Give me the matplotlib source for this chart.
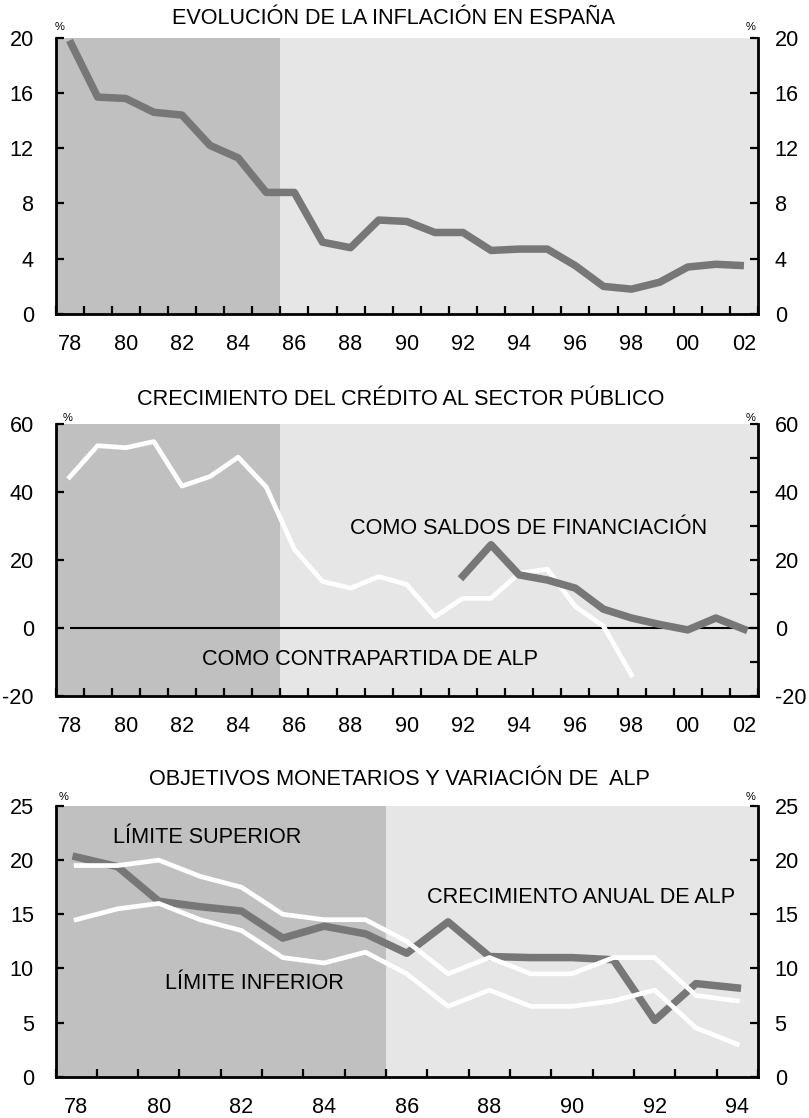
import matplotlib
matplotlib.use("Agg")
import matplotlib.pyplot as plt
from matplotlib.ticker import FixedLocator, MultipleLocator, NullFormatter

plt.rcParams['font.family'] = ['Liberation Sans', 'DejaVu Sans']

# ---------------- data ----------------
years_1 = ['78', '79', '80', '81', '82', '83', '84', '85', '86', '87', '88', '89', '90',
           '91', '92', '93', '94', '95', '96', '97', '98', '99', '00', '01', '02']
inflacion = [19.8, 15.7, 15.6, 14.6, 14.4, 12.2, 11.3, 8.8, 8.8, 5.2, 4.8, 6.8, 6.7,
             5.9, 5.9, 4.6, 4.7, 4.7, 3.5, 2.0, 1.8, 2.3, 3.4, 3.6, 3.5]

years_2 = years_1
contrapartida_years = ['78', '79', '80', '81', '82', '83', '84', '85', '86', '87', '88',
                       '89', '90', '91', '92', '93', '94', '95', '96', '97', '98']
contrapartida_alp = [44.4, 53.7, 53.1, 54.9, 41.8, 44.6, 50.3, 41.5, 23.2, 13.7, 11.7,
                     15.1, 12.8, 3.3, 8.7, 8.7, 16.1, 17.3, 6.3, 0.5, -13.9]
saldos_years = ['92', '93', '94', '95', '96', '97', '98', '99', '00', '01', '02']
saldos_financiacion = [15.3, 24.5, 15.6, 14.1, 11.7, 5.5, 2.9, 1.0, -0.6, 2.9, -0.4]

years_3 = ['78', '79', '80', '81', '82', '83', '84', '85', '86', '87', '88',
           '89', '90', '91', '92', '93', '94']
alp_crecimiento = [20.3, 19.4, 16.2, 15.7, 15.3, 12.8, 13.9, 13.2, 11.4, 14.3, 11.1,
                   11.0, 11.0, 10.8, 5.2, 8.6, 8.2]
limite_superior = [19.5, 19.5, 20.0, 18.5, 17.5, 15.0, 14.5, 14.5, 12.5, 9.5, 11.0,
                   9.5, 9.5, 11.0, 11.0, 7.5, 7.0]
limite_inferior = [14.5, 15.5, 16.0, 14.5, 13.5, 11.0, 10.5, 11.5, 9.5, 6.5, 8.0,
                   6.5, 6.5, 7.0, 8.0, 4.5, 3.0]

shade_last = '85'   # dark period ends after this year

titles = ['EVOLUCIÓN DE LA INFLACIÓN EN ESPAÑA',
          'CRECIMIENTO DEL CRÉDITO AL SECTOR PÚBLICO',
          'OBJETIVOS MONETARIOS Y VARIACIÓN DE  ALP']

# ---------------- style ----------------
W, H = 809, 1118
DPI = 100
DARK = '#c0c0c0'
LIGHT = '#e6e6e6'
GREY_LINE = '#777777'
FS = 15.6

fig = plt.figure(figsize=(W / DPI, H / DPI), dpi=DPI)


def px_rect(left, top, right, bottom):
    return [left / W, 1 - bottom / H, (right - left) / W, (bottom - top) / H]


def setup(ax, years, ylim, yticks, label_step=2, right_minor=None):
    n = len(years)
    ax.set_xlim(-0.5, n - 0.5)
    ax.set_ylim(*ylim)
    ax.set_facecolor(LIGHT)
    k = years.index(shade_last)
    ax.axvspan(-0.5, k + 0.5, color=DARK, lw=0, zorder=0)
    ax.spines['top'].set_visible(False)
    for s in ['left', 'right', 'bottom']:
        ax.spines[s].set_linewidth(2)
        ax.spines[s].set_color('black')
    # x ticks at bin boundaries, labels at bin centres
    ax.xaxis.set_major_locator(FixedLocator([i - 0.5 for i in range(n + 1)]))
    ax.xaxis.set_major_formatter(NullFormatter())
    centers = list(range(0, n, label_step))
    ax.xaxis.set_minor_locator(FixedLocator(centers))
    ax.set_xticklabels([years[i] for i in centers], minor=True)
    ax.tick_params(axis='x', which='major', direction='in', length=6, width=1.6, color='black')
    ax.tick_params(axis='x', which='minor', length=0, pad=14.5, labelsize=FS)
    ax.set_yticks(yticks)
    ax.set_yticklabels([str(v) for v in yticks])
    ax.tick_params(axis='y', which='major', direction='in', length=6, width=1.6,
                   pad=15.5, labelsize=FS)
    ax2 = ax.twinx()
    ax2.set_ylim(*ylim)
    ax2.set_yticks(yticks)
    ax2.set_yticklabels([str(v) for v in yticks])
    ax2.tick_params(axis='y', which='major', direction='in', length=6, width=1.6,
                    pad=12, labelsize=FS)
    if right_minor:
        ax2.yaxis.set_minor_locator(MultipleLocator(right_minor))
        ax2.tick_params(axis='y', which='minor', direction='in', length=6, width=1.6)
    for s in ax2.spines.values():
        s.set_visible(False)
    return ax2


def idx(years, subset):
    return [years.index(y) for y in subset]


# ---------------- panel 1 ----------------
ax1 = fig.add_axes(px_rect(55.5, 37.7, 758, 314))
setup(ax1, years_1, (0, 20), [0, 4, 8, 12, 16, 20])
ax1.plot(range(len(years_1)), inflacion, color=GREY_LINE, lw=5.4,
         solid_capstyle='butt', zorder=3)

# ---------------- panel 2 ----------------
ax2 = fig.add_axes(px_rect(55.5, 424.3, 758, 695.7))
setup(ax2, years_2, (-20, 60), [-20, 0, 20, 40, 60], right_minor=10)
ax2.hlines(0, 0, len(years_2) - 0.5, color='black', lw=1.5, zorder=2)
ax2.plot(idx(years_2, contrapartida_years), contrapartida_alp, color='white', lw=3.4,
         zorder=3)
ax2.plot(idx(years_2, saldos_years), saldos_financiacion, color=GREY_LINE, lw=5.4,
         zorder=4)
ax2.text(9.97, 27.7, 'COMO SALDOS DE FINANCIACIÓN', fontsize=FS, ha='left',
         va='baseline', zorder=5)
ax2.text(4.73, -10.9, 'COMO CONTRAPARTIDA DE ALP', fontsize=FS, ha='left',
         va='baseline', zorder=5)

# ---------------- panel 3 ----------------
ax3 = fig.add_axes(px_rect(55.5, 806, 758, 1076.7))
setup(ax3, years_3, (0, 25), [0, 5, 10, 15, 20, 25])
x3 = range(len(years_3))
ax3.plot(x3, alp_crecimiento, color=GREY_LINE, lw=5.4, zorder=3)
ax3.plot(x3, limite_superior, color='white', lw=3.4, zorder=4)
ax3.plot(x3, limite_inferior, color='white', lw=3.4, zorder=4)
ax3.text(0.90, 21.55, 'LÍMITE SUPERIOR', fontsize=FS, ha='left', va='baseline', zorder=5)
ax3.text(2.14, 8.1, 'LÍMITE INFERIOR', fontsize=FS, ha='left', va='baseline', zorder=5)
ax3.text(8.5, 16.0, 'CRECIMIENTO ANUAL DE ALP', fontsize=FS, ha='left', va='baseline',
         zorder=5)

# ---------------- titles and % marks ----------------
for t, (cx, base) in zip(titles, [(394, 24), (400.8, 405), (399.7, 785)]):
    fig.text(cx / W, 1 - base / H, t, fontsize=FS, ha='center', va='baseline')

for (lx, rx, y) in [(60, 750.7, 26.7), (68, 750.7, 418), (64, 750.7, 796.7)]:
    fig.text(lx / W, 1 - y / H, '%', fontsize=8, ha='center', va='center')
    fig.text(rx / W, 1 - y / H, '%', fontsize=8, ha='center', va='center')

fig.savefig('out.png', dpi=DPI)
